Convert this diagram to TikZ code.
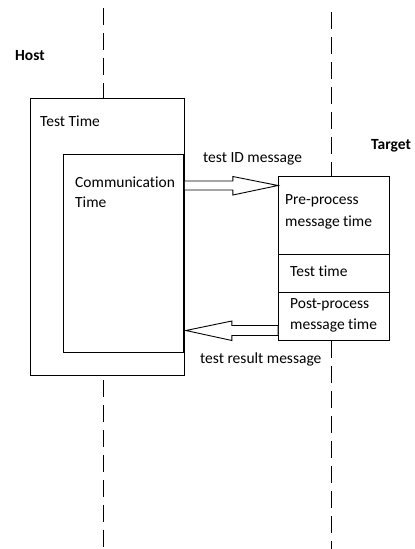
\documentclass[tikz,border=0pt]{standalone}
\usepackage{fontspec}
\setmainfont{Carlito}[Ligatures={NoCommon}]
\usetikzlibrary{calc}
\begin{document}
\begin{tikzpicture}[x=1pt,y=-1pt,
  every node/.style={font=\fontsize{15.5}{21}\selectfont, inner sep=0pt},
  box/.style={draw, line width=0.9pt, minimum width=#1, anchor=north west},
  life/.style={line width=0.9pt, dash pattern=on 17pt off 8pt},
  txt/.style={anchor=west, align=left},
  blockarrow/.style={draw, line width=0.9pt, fill=white, line join=miter}]
\useasboundingbox (0,0) rectangle (415,549);
% boxes
\node[box=154pt, minimum height=277pt] (outer) at (30,98) {};
\node[box=120pt, minimum height=198pt] (inner) at (63,154) {};
\node[box=111pt, minimum height=78pt] (pre) at (278,176) {};
\node[box=111pt, minimum height=38pt] (tt) at (278,254) {};
\node[box=111pt, minimum height=48pt] (post) at (278,292) {};
% lifelines
\coordinate (hTop) at (103,8);
\coordinate (hBot) at (103,549);
\coordinate (tTop) at (331,12);
\coordinate (tBot) at (331,549);
\draw[life] (hTop) -- (hTop |- outer.north);
\draw[life] ($(hTop |- outer.south)+(0,4)$) -- (hBot);
\draw[life] (tTop) -- (tTop |- pre.north);
\draw[life] (tTop |- post.south) -- (tBot);
% labels
\node[txt, font=\fontsize{15.5}{21}\selectfont\bfseries] (host) at (15,56) {Host};
\node[txt, font=\fontsize{15.5}{21}\selectfont\bfseries] (target) at (371,146) {Target};
\node[txt] (ttime) at (40,121) {Test Time};
\node[txt] (comm1) at (75,182) {Communication};
\node[txt] (comm2) at (75,202) {Time};
\node[txt] (pre1) at (285,201) {Pre-process};
\node[txt] (pre2) at (285,222) {message time};
\node[txt] (tt1) at (290,271) {Test time};
\node[txt] (post1) at (290,305) {Post-process};
\node[txt] (post2) at (290,325) {message time};
\node[txt] (idmsg) at (203,159) {test ID message};
\node[txt] (resmsg) at (200,359) {test result message};
% block arrows
\coordinate (a1s) at (outer.east |- 0,185.5);
\coordinate (a1t) at (pre.west |- 0,185.5);
\draw[blockarrow] ($(a1s)+(0,-4.5)$) -- ($(a1s)+(48,-4.5)$) -- ($(a1s)+(48,-9)$) -- (a1t)
  -- ($(a1s)+(48,9.5)$) -- ($(a1s)+(48,4.5)$) -- ($(a1s)+(0,4.5)$);
\coordinate (a2s) at (post.west |- 0,330.5);
\coordinate (a2t) at ($(outer.east |- 0,330.5)+(1,0)$);
\draw[blockarrow] ($(a2s)+(0,-5)$) -- ($(a2t)+(46,-5)$) -- ($(a2t)+(46,-9.5)$) -- (a2t)
  -- ($(a2t)+(46,10)$) -- ($(a2t)+(46,5)$) -- ($(a2s)+(0,5)$) -- cycle;
\end{tikzpicture}
\end{document}
